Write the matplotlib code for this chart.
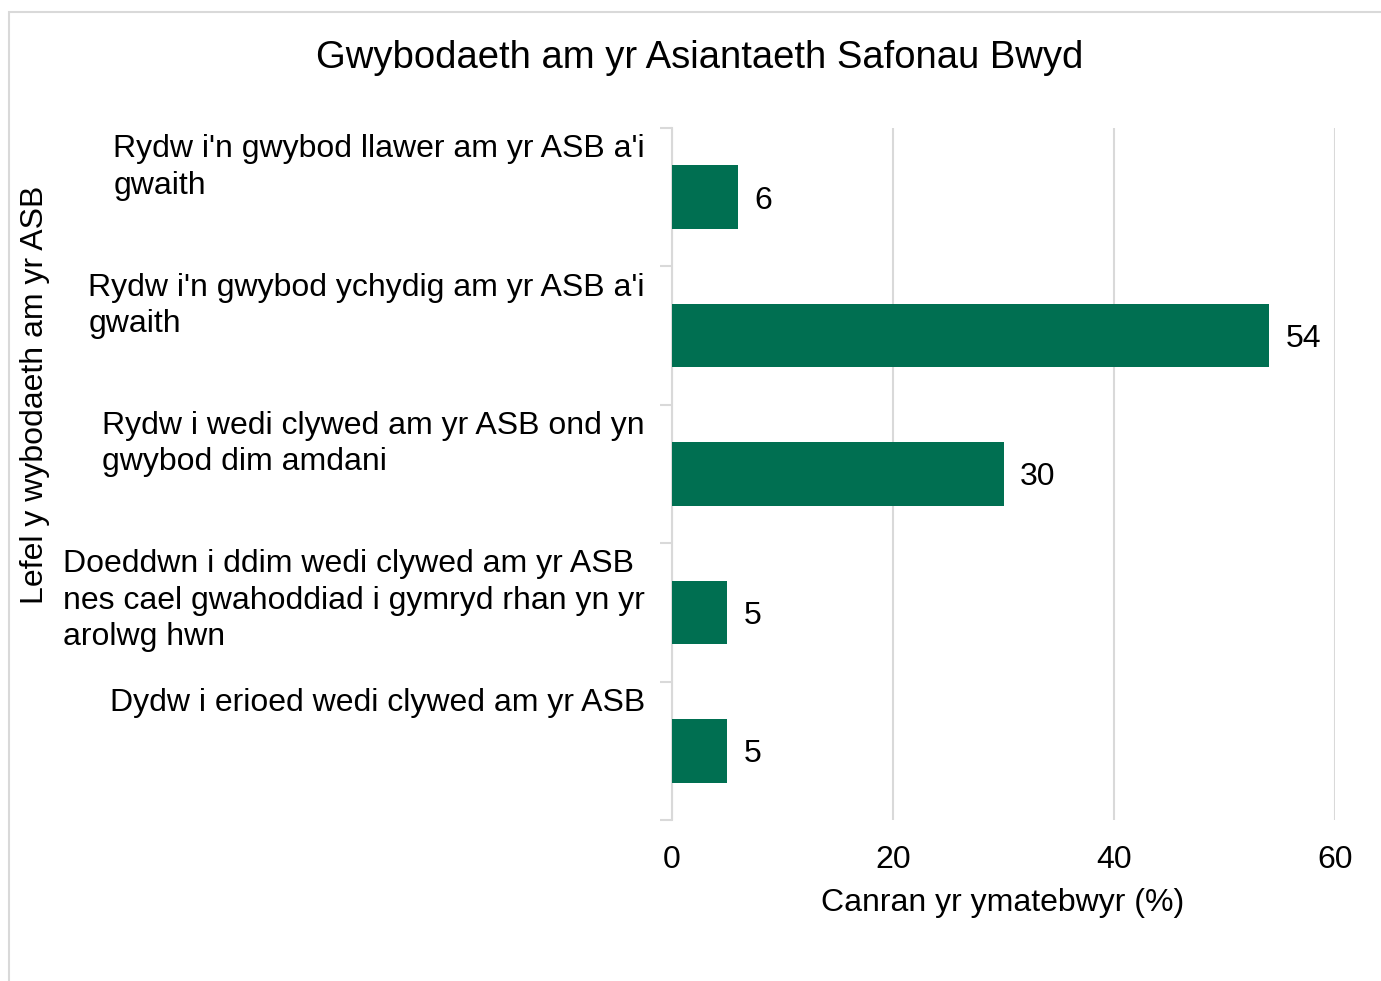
import matplotlib.pyplot as plt
from matplotlib.patches import Rectangle
import matplotlib.transforms as mtransforms

plt.rcParams['font.family'] = ['Liberation Sans', 'DejaVu Sans']

# data
categories = [
    "Rydw i'n gwybod llawer am yr ASB a'i\ngwaith",
    "Rydw i'n gwybod ychydig am yr ASB a'i\ngwaith",
    "Rydw i wedi clywed am yr ASB ond yn\ngwybod dim amdani",
    "Doeddwn i ddim wedi clywed am yr ASB\nnes cael gwahoddiad i gymryd rhan yn yr\narolwg hwn",
    "Dydw i erioed wedi clywed am yr ASB",
]
values = [6, 54, 30, 5, 5]
x_ticks = [0, 20, 40, 60]

bar_color = '#006F51'
grid_color = '#D9D9D9'
fs = 23

fig = plt.figure(figsize=(13.81, 9.81), dpi=100)
ax = fig.add_axes([672 / 1381, 1 - 820 / 981, (1335 - 672) / 1381, (820 - 128) / 981])

pos = list(range(len(categories)))
bars = ax.barh(pos, values, height=0.46, color=bar_color, zorder=3)

ax.set_xlim(0, 60)
ax.set_ylim(len(categories) - 0.5, -0.5)
ax.set_xticks(x_ticks)
ax.set_xticklabels([str(t) for t in x_ticks], fontsize=fs)
ax.tick_params(axis='x', length=0, pad=18)
ax.grid(axis='x', color=grid_color, linewidth=1.5, zorder=0)

# category boundary ticks on the left
ax.set_yticks([p - 0.5 for p in pos] + [pos[-1] + 0.5])
ax.set_yticklabels([])
ax.tick_params(axis='y', length=9, width=1.5, color=grid_color)

for s in ['top', 'right', 'bottom']:
    ax.spines[s].set_visible(False)
ax.spines['left'].set_color(grid_color)
ax.spines['left'].set_linewidth(1.5)

# category labels, top-aligned in each band
trans = mtransforms.blended_transform_factory(fig.transFigure, ax.transData)
for p, lab in zip(pos, categories):
    ax.text(645 / 1381, p - 0.455, lab, transform=trans, ha='right', va='top',
            multialignment='left', fontsize=fs, linespacing=1.28)

# value labels
for p, v in zip(pos, values):
    ax.text(v + 1.5, p + 0.025, str(v), va='center', ha='left', fontsize=fs)

fig.text(1003 / 1381, 1 - 903 / 981, 'Canran yr ymatebwyr (%)',
         ha='center', va='center', fontsize=fs)
fig.text(35 / 1381, 1 - 395 / 981, 'Lefel y wybodaeth am yr ASB', rotation=90,
         ha='center', va='center', fontsize=fs)
fig.text(700 / 1381, 1 - 58 / 981, 'Gwybodaeth am yr Asiantaeth Safonau Bwyd',
         ha='center', va='center', fontsize=27.5)

# chart border
fig.patches.append(Rectangle((9 / 1381, -0.1), 1.2, 1 - 12 / 981 + 0.1,
                             transform=fig.transFigure, fill=False,
                             edgecolor=grid_color, linewidth=1.5))

fig.savefig('out.png', dpi=100)
